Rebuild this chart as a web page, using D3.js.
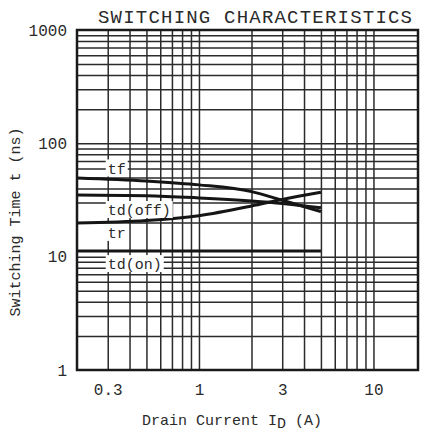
<!DOCTYPE html>
<html>
<head>
<meta charset="utf-8">
<script src="https://cdn.jsdelivr.net/npm/d3@7"></script>
<style>
  body { margin: 0; background: #fff; }
  text { font-family: "Liberation Mono", "DejaVu Sans Mono", monospace; fill: #2a2a2a; }
</style>
</head>
<body>
<script>
// values
const currents = [0.2, 0.5, 1, 2, 3, 5];
const tf     = [49.5, 46.5, 43, 37.5, 31.5, 25];
const tdOff  = [35, 34.5, 33, 31, 29.5, 27];
const tr     = [19.8, 20.8, 23, 28, 32, 37];
const tdOn   = [11.2, 11.2, 11.2, 11.2, 11.2, 11.2];

const seriesNames = ["tf", "td(off)", "tr", "td(on)"];
const seriesValues = [tf, tdOff, tr, tdOn];

// curve labels: [current, time] where they sit
const labelNames = ["tf", "td(off)", "tr", "td(on)"];
const labelAt = [[0.3, 60], [0.3, 25.8], [0.3, 16.2], [0.3, 8.6]];

const xTicks = [0.3, 1, 3, 10];
const yTicks = [1, 10, 100, 1000];

let canvasW = 422;
let canvasH = 434;
let margin = ({top: 30, right: 4, bottom: 64, left: 77});

let xScale = d3.scaleLog()
  .domain([0.2, 18])
  .range([margin.left, canvasW - margin.right]);
let yScale = d3.scaleLog()
  .domain([1, 1000])
  .range([canvasH - margin.bottom, margin.top]);

let svg = d3.select("body")
  .append("svg")
    .attr("width", canvasW)
    .attr("height", canvasH);

// grid lines, every 1..9 of each decade
let xGrid = [];
for (let d of [0.1, 1, 10]) for (let k = 1; k <= 9; k++) {
  let v = +(d * k).toFixed(2);
  if (v > 0.2 && v < 18) xGrid.push(v);
}
let yGrid = [];
for (let d of [1, 10, 100]) for (let k = 2; k <= 9; k++) yGrid.push(d * k);
yGrid.push(10, 100);

let gx = svg.append("g")
  .attr("transform", "translate(0," + (canvasH - margin.bottom) + ")")
  .call(d3.axisBottom(xScale).tickValues(xGrid).tickSize(-(canvasH - margin.top - margin.bottom)).tickFormat(""));
gx.select(".domain").remove();
gx.selectAll("line").attr("stroke", "#2b2b2b").attr("stroke-width", 1.5);

let gy = svg.append("g")
  .attr("transform", "translate(" + margin.left + ",0)")
  .call(d3.axisLeft(yScale).tickValues(yGrid).tickSize(-(canvasW - margin.left - margin.right)).tickFormat(""));
gy.select(".domain").remove();
gy.selectAll("line").attr("stroke", "#2b2b2b").attr("stroke-width", 1.5);

// frame
svg.append("rect")
  .attr("x", margin.left)
  .attr("y", margin.top)
  .attr("width", canvasW - margin.left - margin.right)
  .attr("height", canvasH - margin.top - margin.bottom)
  .attr("fill", "none")
  .attr("stroke", "#1a1a1a")
  .attr("stroke-width", 2.5);

// curves
let line = d3.line()
  .x((d, i) => xScale(currents[i]))
  .y(d => yScale(d))
  .curve(d3.curveMonotoneX);

svg.selectAll(".curve")
  .data(seriesValues)
  .enter()
  .append("path")
    .attr("class", "curve")
    .attr("d", d => line(d))
    .attr("fill", "none")
    .attr("stroke", "#151515")
    .attr("stroke-width", 3);

// curve labels with white backing
let lab = svg.selectAll(".lab")
  .data(labelNames)
  .enter()
  .append("g")
    .attr("class", "lab")
    .attr("transform", (d, i) => "translate(" + xScale(labelAt[i][0]) + "," + yScale(labelAt[i][1]) + ")");
lab.append("rect")
  .attr("x", -2)
  .attr("y", -9)
  .attr("width", d => d.length * 9 + 4)
  .attr("height", 17)
  .attr("fill", "#fff");
lab.append("text")
  .attr("font-size", "15px")
  .attr("dy", "0.35em")
  .text(d => d);

// tick labels
let ax = svg.append("g")
  .attr("transform", "translate(0," + (canvasH - margin.bottom) + ")")
  .call(d3.axisBottom(xScale).tickValues(xTicks).tickSize(0).tickPadding(14).tickFormat(d => d));
ax.select(".domain").remove();
ax.selectAll("text").attr("font-size", "16px").attr("font-family", "Liberation Mono").attr("fill", "#2a2a2a");

let ay = svg.append("g")
  .attr("transform", "translate(" + margin.left + ",0)")
  .call(d3.axisLeft(yScale).tickValues(yTicks).tickSize(0).tickPadding(10).tickFormat(d => d));
ay.select(".domain").remove();
ay.selectAll("text").attr("font-size", "16px").attr("font-family", "Liberation Mono").attr("fill", "#2a2a2a");

// title
svg.append("text")
  .attr("x", 255)
  .attr("y", 23)
  .attr("text-anchor", "middle")
  .attr("font-size", "19px")
  .attr("textLength", 314)
  .attr("lengthAdjust", "spacing")
  .text("SWITCHING CHARACTERISTICS");

// axis titles
let xt = svg.append("text")
  .attr("x", 232)
  .attr("y", 425)
  .attr("text-anchor", "middle")
  .attr("font-size", "15px");
xt.append("tspan").text("Drain Current I");
xt.append("tspan").attr("dy", 3).text("D");
xt.append("tspan").attr("dy", -3).text(" (A)");

svg.append("text")
  .attr("text-anchor", "middle")
  .attr("font-size", "15px")
  .attr("transform", "translate(20," + 222 + ") rotate(-90)")
  .text("Switching Time t (ns)");
</script>
</body>
</html>
